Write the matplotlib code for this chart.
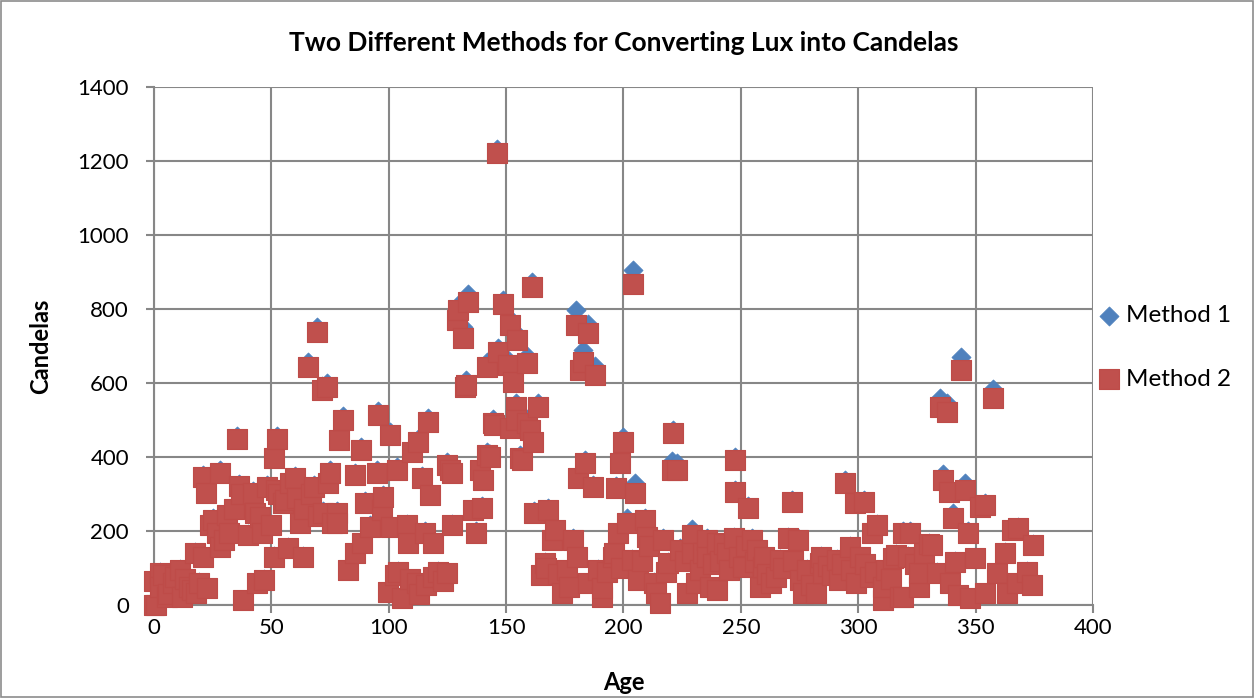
import matplotlib
matplotlib.use("Agg")
import matplotlib.pyplot as plt
from matplotlib.patches import Rectangle

# ages and the two candela estimates
age = [0, 0, 1, 2.5, 2.5, 4, 5.5, 6, 8, 9,
       11, 12, 13, 15, 16, 17.5, 18, 19, 21, 21,
       22, 22.5, 24, 25, 27, 28, 28, 30, 31, 32,
       34, 35.4, 36, 37, 38, 40, 42, 43, 44, 45,
       46, 47, 48, 50, 51, 51, 52, 52.4, 53, 55,
       56, 57, 58, 60, 61, 62, 63.5, 64, 65.6, 67,
       68, 69.4, 70, 71.6, 72, 73.7, 74, 75, 76, 78,
       78, 79, 80.5, 82.6, 85.6, 85.6, 88, 88.6, 90, 92,
       95, 95.5, 97, 97.5, 99.7, 100.5, 101, 102.7, 103.5, 104,
       105.6, 107.8, 108, 109, 110, 112, 112.5, 113, 114, 115.5,
       116, 116.7, 117.6, 119, 119, 121, 123, 125, 125, 126,
       127, 127, 129, 129.5, 131.6, 132.5, 133, 133.8, 136, 137,
       139, 139.7, 140, 141.8, 142, 143, 144.5, 145, 146, 146.5,
       148.7, 150.8, 151.6, 151.6, 153, 154, 154, 154.6, 156, 156.8,
       158.9, 159, 160, 161, 161.5, 162, 163.6, 165, 166.6, 167,
       168, 169.5, 171, 172, 174, 176, 177, 178.5, 179.8, 180,
       180.6, 181.5, 182.7, 183.6, 184.9, 185, 187, 187.9, 189, 190.8,
       191, 193, 195.5, 196, 197, 197.6, 198.5, 199, 200, 201.5,
       203.6, 204, 205, 206, 208, 209, 210, 211, 213, 214,
       215.5, 216.8, 218, 219, 220.6, 221, 222.8, 224, 226, 227,
       229, 229, 231, 232.6, 234, 235.5, 235.5, 237, 238, 239.8,
       239.8, 241, 243, 244, 245, 247, 247.5, 247.5, 249, 251,
       252, 253, 254.7, 256, 257, 258, 259.4, 260, 261, 263,
       265, 266.6, 268, 270, 271.8, 272, 274.3, 275, 276.5, 278,
       280, 282, 283.7, 284, 285, 287, 289, 291, 292, 293,
       294.4, 296.5, 297, 298.6, 299, 300.7, 302.4, 303, 305, 306,
       307, 308, 310.5, 310.5, 312, 314, 315, 316, 318, 319,
       319, 321.2, 322, 324, 326, 326, 328, 330, 331.4, 333.5,
       334.8, 336, 337.8, 338.7, 339, 340.4, 341.2, 342.5, 343.8, 345.5,
       346.8, 347.6, 349.7, 352, 354, 354, 357.4, 359, 362.5, 363.4,
       365.5, 367.6, 368, 372, 374, 374.4]

method1 = [0, 67, 2, 88, 50, 82, 23, 31, 60, 77,
           97, 23, 72, 50, 41, 144, 33, 61, 133, 352,
           309, 47, 219, 235, 199, 364, 160, 178, 248, 199,
           265, 458, 328, 306, 14, 193, 309, 255, 60, 243,
           199, 69, 325, 219, 133, 405, 317, 458, 306, 282,
           291, 157, 337, 350, 296, 226, 133, 265, 656, 306,
           325, 752, 245, 593, 254, 600, 337, 364, 226, 254,
           226, 455, 510, 97, 144, 358, 427, 171, 282, 215,
           364, 523, 262, 298, 36, 468, 215, 83, 372, 92,
           19, 220, 171, 71, 422, 60, 450, 31, 350, 199,
           56, 505, 303, 171, 78, 92, 66, 88, 386, 372,
           220, 364, 785, 810, 750, 600, 607, 840, 262, 199,
           372, 267, 345, 656, 413, 408, 502, 496, 1232, 695,
           825, 662, 772, 488, 615, 546, 510, 732, 405, 400,
           672, 502, 482, 872, 450, 254, 546, 83, 116, 102,
           262, 180, 207, 87, 33, 97, 50, 180, 797, 133,
           350, 648, 690, 392, 760, 61, 325, 645, 97, 23,
           47, 92, 133, 143, 322, 199, 392, 102, 455, 235,
           125, 905, 330, 69, 122, 235, 188, 163, 61, 33,
           5, 180, 92, 116, 390, 474, 385, 153, 122, 33,
           205, 144, 61, 97, 143, 180, 133, 50, 112, 171,
           42, 122, 168, 144, 97, 184, 400, 311, 133, 105,
           163, 267, 180, 117, 152, 50, 105, 133, 87, 61,
           78, 125, 102, 185, 284, 122, 180, 69, 33, 97,
           56, 33, 116, 133, 88, 107, 82, 125, 69, 112,
           337, 160, 97, 282, 61, 133, 284, 112, 78, 199,
           92, 220, 14, 50, 97, 71, 130, 138, 23, 199,
           23, 133, 199, 112, 50, 88, 143, 168, 165, 88,
           560, 355, 545, 311, 60, 250, 118, 28, 670, 330,
           199, 19, 130, 270, 276, 33, 585, 88, 144, 33,
           207, 60, 212, 91, 55, 165]

method2 = [0, 65, 0, 86, 49, 80, 22, 30, 59, 75,
           95, 22, 70, 49, 40, 141, 32, 60, 130, 346,
           303, 46, 215, 230, 195, 357, 157, 175, 243, 195,
           260, 449, 322, 300, 14, 189, 303, 250, 59, 238,
           195, 68, 319, 215, 130, 397, 311, 449, 300, 276,
           285, 154, 330, 343, 290, 222, 130, 260, 643, 300,
           319, 738, 240, 581, 249, 589, 330, 357, 222, 249,
           222, 446, 500, 95, 141, 351, 419, 168, 276, 211,
           357, 513, 257, 292, 35, 459, 211, 81, 365, 90,
           19, 216, 168, 70, 414, 59, 441, 30, 343, 195,
           55, 495, 297, 168, 76, 90, 65, 86, 378, 365,
           216, 357, 770, 797, 722, 589, 595, 819, 257, 195,
           365, 262, 338, 643, 405, 400, 492, 486, 1222, 684,
           814, 649, 757, 478, 603, 535, 500, 716, 397, 392,
           654, 492, 473, 859, 441, 249, 535, 81, 114, 100,
           257, 176, 203, 85, 32, 95, 49, 176, 757, 130,
           343, 635, 657, 384, 735, 60, 319, 622, 95, 22,
           46, 90, 130, 140, 316, 195, 384, 100, 441, 222,
           122, 868, 303, 68, 120, 230, 184, 160, 60, 32,
           5, 176, 90, 114, 365, 465, 365, 150, 120, 32,
           189, 141, 60, 95, 140, 176, 130, 49, 110, 168,
           41, 120, 165, 141, 95, 180, 392, 305, 130, 103,
           160, 262, 176, 115, 149, 49, 103, 130, 85, 60,
           76, 122, 100, 181, 278, 120, 176, 68, 32, 95,
           55, 32, 114, 130, 86, 105, 80, 122, 68, 110,
           330, 157, 95, 276, 60, 130, 278, 110, 76, 195,
           90, 216, 14, 49, 95, 70, 127, 135, 22, 195,
           22, 130, 195, 110, 49, 86, 140, 165, 162, 86,
           535, 338, 522, 305, 59, 235, 116, 27, 635, 311,
           195, 19, 127, 265, 270, 32, 559, 86, 141, 32,
           203, 59, 208, 89, 54, 162]

x_ticks = list(range(0, 401, 50))
y_ticks = list(range(0, 1401, 200))

plt.rcParams['font.family'] = ['Lato', 'DejaVu Sans']

fig = plt.figure(figsize=(12.54, 6.98), dpi=100)
ax = fig.add_axes([0.1228, 0.1332, 0.7488, 0.7422])

ax.scatter(age, method1, marker='D', s=95, color='#4F81BD', edgecolors='#4A7EBB',
           linewidths=0.5, label='Method 1', clip_on=False, zorder=3)
ax.scatter(age, method2, marker='s', s=205, color='#C0504D', edgecolors='#BE4B48',
           linewidths=0.8, label='Method 2', clip_on=False, zorder=4)

ax.set_xlim(0, 400)
ax.set_ylim(0, 1400)
ax.set_xticks(x_ticks)
ax.set_yticks(y_ticks)
ax.grid(True, color='#878787', linewidth=1.5)
ax.set_axisbelow(True)
for s in ['top', 'right']:
    ax.spines[s].set_visible(False)
for s in ['left', 'bottom']:
    ax.spines[s].set_color('#878787')
    ax.spines[s].set_linewidth(1.5)
ax.tick_params(axis='both', length=6, width=1.5, color='#878787', labelsize=16)
ax.tick_params(axis='y', pad=12)
ax.tick_params(axis='x', pad=3)

ax.set_title('Two Different Methods for Converting Lux into Candelas',
             fontsize=19, fontweight='bold', pad=26)
ax.set_xlabel('Age', fontsize=17, fontweight='bold', labelpad=24)
ax.set_ylabel('Candelas', fontsize=17, fontweight='bold', labelpad=18)

leg = ax.legend(loc='center left', bbox_to_anchor=(1.0, 0.497), frameon=False,
                fontsize=17.5, handletextpad=0.25, labelspacing=1.75, borderaxespad=0.0,
                borderpad=0.2, scatterpoints=1, handlelength=0.9)

fig.patches.append(Rectangle((0.001, 0.001), 0.998, 0.998, transform=fig.transFigure,
                             fill=False, edgecolor='#8c8c8c', linewidth=1.2))

fig.savefig('out.png', dpi=100)
